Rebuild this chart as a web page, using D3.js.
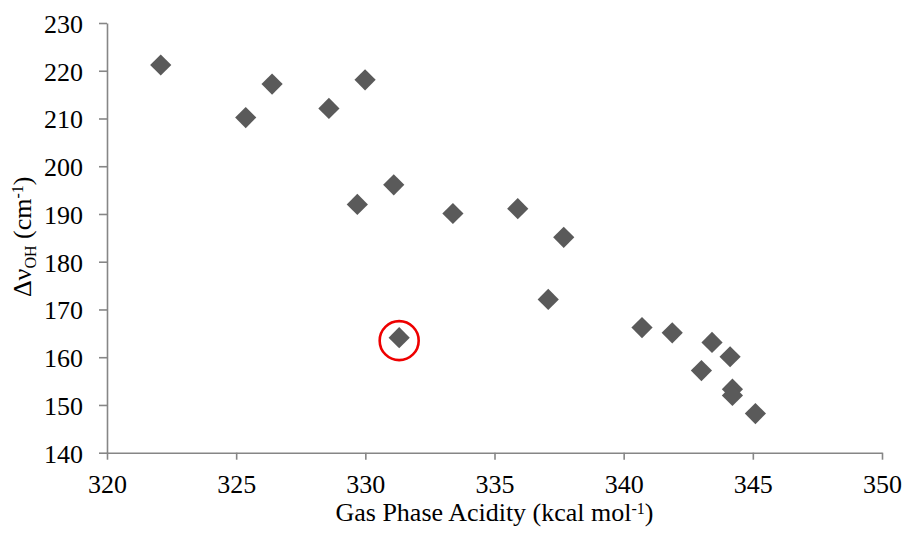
<!DOCTYPE html>
<html>
<head>
<meta charset="utf-8">
<script src="https://cdn.jsdelivr.net/npm/d3@7"></script>
</head>
<body style="margin:0">
<svg id="chart" width="906" height="535" font-family="Liberation Serif"></svg>
<script>
// Gas phase acidity (kcal/mol) and Δν_OH (cm^-1)
const acidity = [322.08, 325.37, 326.39, 328.59, 329.99, 329.69, 331.10, 331.31, 333.39, 335.90,
                 337.68, 337.08, 340.71, 341.88, 343.42, 344.12, 343.01, 344.21, 344.21, 345.10];
const deltaNu = [221.2, 210.2, 217.2, 212.1, 218.1, 192.0, 196.1, 164.1, 190.1, 191.1,
                 185.1, 172.1, 166.2, 165.1, 163.1, 160.1, 157.2, 153.3, 152.0, 148.2];
const xTicks = [320, 325, 330, 335, 340, 345, 350];
const yTicks = [140, 150, 160, 170, 180, 190, 200, 210, 220, 230];
const highlightIndex = [7];

const svg = d3.select("#chart");
const mLeft = 107, mRight = 882, mTop = 23, mBottom = 452.7;

const x = d3.scaleLinear().domain([320, 350]).range([mLeft, mRight]);
const y = d3.scaleLinear().domain([140, 230]).range([mBottom, mTop]);

const axisColor = "#868686";
const fontSize = 26;
const smallSize = 16;

function serif(sel) {
  return sel.attr("font-family", "Liberation Serif")
            .style("font-family", "'Liberation Serif'");
}

// X axis
const xAxis = svg.append("g").attr("transform", `translate(0,${mBottom})`)
  .call(d3.axisBottom(x).tickValues(xTicks).tickSize(7).tickSizeOuter(0).tickPadding(15).tickFormat(d3.format("d")));
// Y axis
const yAxis = svg.append("g").attr("transform", `translate(${mLeft},0)`)
  .call(d3.axisLeft(y).tickValues(yTicks).tickSize(8).tickSizeOuter(0).tickPadding(16).tickFormat(d3.format("d")));

[xAxis, yAxis].forEach(g => {
  serif(g).attr("font-size", fontSize);
  g.select(".domain").attr("stroke", axisColor).attr("stroke-width", 1.6);
  g.selectAll(".tick line").attr("stroke", axisColor).attr("stroke-width", 1.6);
  serif(g.selectAll(".tick text")).attr("font-size", fontSize).attr("fill", "#000");
});
yAxis.selectAll(".tick text").attr("dy", "0.36em");

// Points (diamonds)
svg.append("g").selectAll("path")
  .data(acidity.map((a, i) => [a, deltaNu[i]]))
  .join("path")
  .attr("d", d3.symbol().type(d3.symbolSquare).size(225))
  .attr("transform", d => `translate(${x(d[0])},${y(d[1])}) rotate(45)`)
  .attr("fill", "#5a5a5a");

// Highlight circle
svg.append("g").selectAll("circle")
  .data(highlightIndex)
  .join("circle")
  .attr("cx", i => x(acidity[i]))
  .attr("cy", i => y(deltaNu[i]) + 3)
  .attr("r", 19.5)
  .attr("fill", "none")
  .attr("stroke", "#ee0000")
  .attr("stroke-width", 2.6);

// X title
const xt = serif(svg.append("text"))
  .attr("x", (mLeft + mRight) / 2)
  .attr("y", 521)
  .attr("text-anchor", "middle")
  .attr("font-size", fontSize);
xt.append("tspan").text("Gas Phase Acidity (kcal mol");
xt.append("tspan").attr("font-size", smallSize).attr("dy", -7).text("-1");
xt.append("tspan").attr("dy", 7).text(")");

// Y title
const yt = serif(svg.append("text"))
  .attr("transform", `translate(31,${(mTop + mBottom) / 2 - 1}) rotate(-90)`)
  .attr("text-anchor", "middle")
  .attr("font-size", fontSize);
yt.append("tspan").text("Δν");
yt.append("tspan").attr("font-size", smallSize).attr("dy", 5).text("OH");
yt.append("tspan").attr("dy", -5).text(" (cm");
yt.append("tspan").attr("font-size", smallSize).attr("dy", -8).text("-1");
yt.append("tspan").attr("dy", 8).text(")");
</script>
</body>
</html>
